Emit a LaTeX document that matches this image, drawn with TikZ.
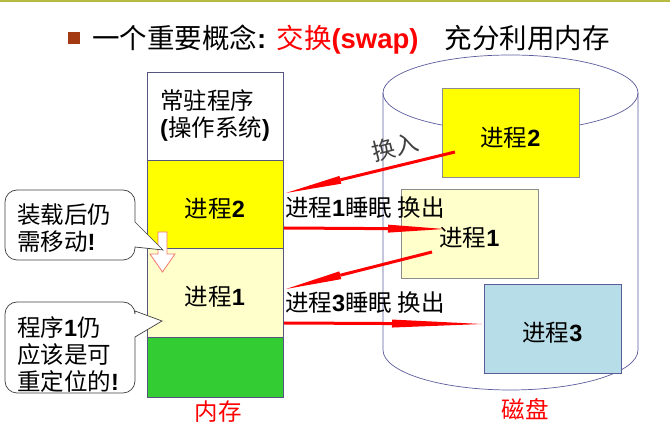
\documentclass[tikz,border=0pt]{standalone}
\usepackage{fontspec}
\setmainfont{Noto Sans CJK SC}
\newfontfamily\arial{Liberation Sans}
\usetikzlibrary{arrows.meta}
\newcommand{\B}[1]{{\arial\bfseries #1}}
\definecolor{topbar}{HTML}{B7BB3F}
\definecolor{bullet}{HTML}{A33A12}
\definecolor{procyellow}{HTML}{FFFF00}
\definecolor{paleyellow}{HTML}{FFFFCC}
\definecolor{freegreen}{HTML}{33CC33}
\definecolor{proccyan}{HTML}{B7DDE8}
\definecolor{memline}{HTML}{55557F}
\definecolor{diskline}{HTML}{5B5B9B}
\definecolor{hollowred}{HTML}{F07868}

\begin{document}
\begin{tikzpicture}[x=1pt,y=-1pt,
  txt/.style={font=\fontsize{23.5}{27}\selectfont},
  boxtext/.style={text height=27pt,text depth=0pt},
  memblock/.style={txt,draw=memline,line width=0.7pt,minimum width=136pt,inner sep=0pt},
  diskbox/.style={txt,boxtext,line width=0.7pt,minimum width=137pt,minimum height=89pt,inner sep=0pt},
  note/.style={txt,align=left,anchor=west,inner sep=0pt},
  bubble/.style={draw=black!75,fill=white,line width=0.7pt},
  swaparrow/.style={draw=red,line width=3pt,-{Triangle[length=56pt,width=8pt,line width=0pt]}}]
\useasboundingbox (0,0) rectangle (670,427);
\fill[topbar] (0,0) rectangle (670,2.5);

% title
\node[fill=bullet,minimum size=12pt,inner sep=0pt] (mark) at (74,38) {};
\node[anchor=west,font=\fontsize{27.5}{30}\selectfont,inner sep=0pt] (title) at (92,40)
  {一个重要概念\B{: }\textcolor{red}{交换\B{(swap)}}\hspace{26pt}充分利用内存};

% memory
\node[memblock,minimum height=88pt,align=left] (os) at (215,116) {常驻程序\\\B{(}操作系统\B{)}};
\node[memblock,boxtext,fill=procyellow,minimum height=88pt] (mem2) at (215,204) {进程\B{2}};
\node[memblock,boxtext,fill=paleyellow,minimum height=89pt] (mem1) at (215,292.5) {进程\B{1}};
\node[memblock,fill=freegreen,minimum height=60pt] (free) at (215,367) {};
\node[txt,text=red] (memlabel) at (218,412) {内存};

% disk
\draw[diskline,line width=0.7pt] (383,93) -- (383,350)
  arc[start angle=180,end angle=0,x radius=127.5,y radius=40] -- (638,93);
\draw[diskline,line width=0.7pt] (510.5,93) ellipse [x radius=127.5,y radius=38];
\node[diskbox,draw=black!45,fill=procyellow] (disk2) at (510.5,133) {进程\B{2}};
\node[diskbox,draw=black!45,fill=paleyellow] (disk1) at (469.5,233.5) {进程\B{1}};
\node[diskbox,draw=diskline,fill=proccyan] (disk3) at (552.5,328.5) {进程\B{3}};
\node[txt,text=red] (disklabel) at (525,409) {磁盘};

% swapping
\coordinate (swapin2) at (455,152);
\coordinate (load2) at (286,193);
\coordinate (sleep1) at (284,228);
\coordinate (out1) at (444,229);
\coordinate (swapin1) at (432,252);
\coordinate (load1) at (286,289);
\coordinate (sleep3) at (284,323);
\coordinate (out3) at (482,324);
\draw[swaparrow] (swapin2) -- (load2);
\draw[swaparrow] (sleep1) -- (out1);
\draw[swaparrow] (swapin1) -- (load1);
\draw[swaparrow,-{Triangle[length=90pt,width=8pt,line width=0pt]}] (sleep3) -- (out3);
\node[txt,text=black!75,rotate=14] (inlabel) at (395,147) {换入};
\node[txt,anchor=west,inner sep=0pt] (out1label) at (285,208) {进程\B{1}睡眠 换出};
\node[txt,anchor=west,inner sep=0pt] (out3label) at (285,303) {进程\B{3}睡眠 换出};

% notes
\draw[hollowred,fill=white,line width=0.8pt] (158,232) -- (167,232) -- (167,254) -- (175,254)
  -- (162.5,272) -- (150,254) -- (158,254) -- cycle;
\draw[bubble] (70,190) [rounded corners=12pt] -- (135,190) [sharp corners] -- (135,222)
  -- (163,250) -- (135,247) [rounded corners=12pt] -- (135,260) -- (5,260) -- (5,190) -- cycle;
\node[note] (loadnote) at (17,228) {装载后仍\\需移动\B{!}};
\draw[bubble] (70,302) [rounded corners=12pt] -- (135,302) [sharp corners] -- (135,311)
  -- (162,321) -- (135,337) [rounded corners=12pt] -- (135,393) -- (5,393) -- (5,302) -- cycle;
\node[note] (relocnote) at (17,355) {程序\B{1}仍\\应该是可\\重定位的\B{!}};
\end{tikzpicture}
\end{document}
